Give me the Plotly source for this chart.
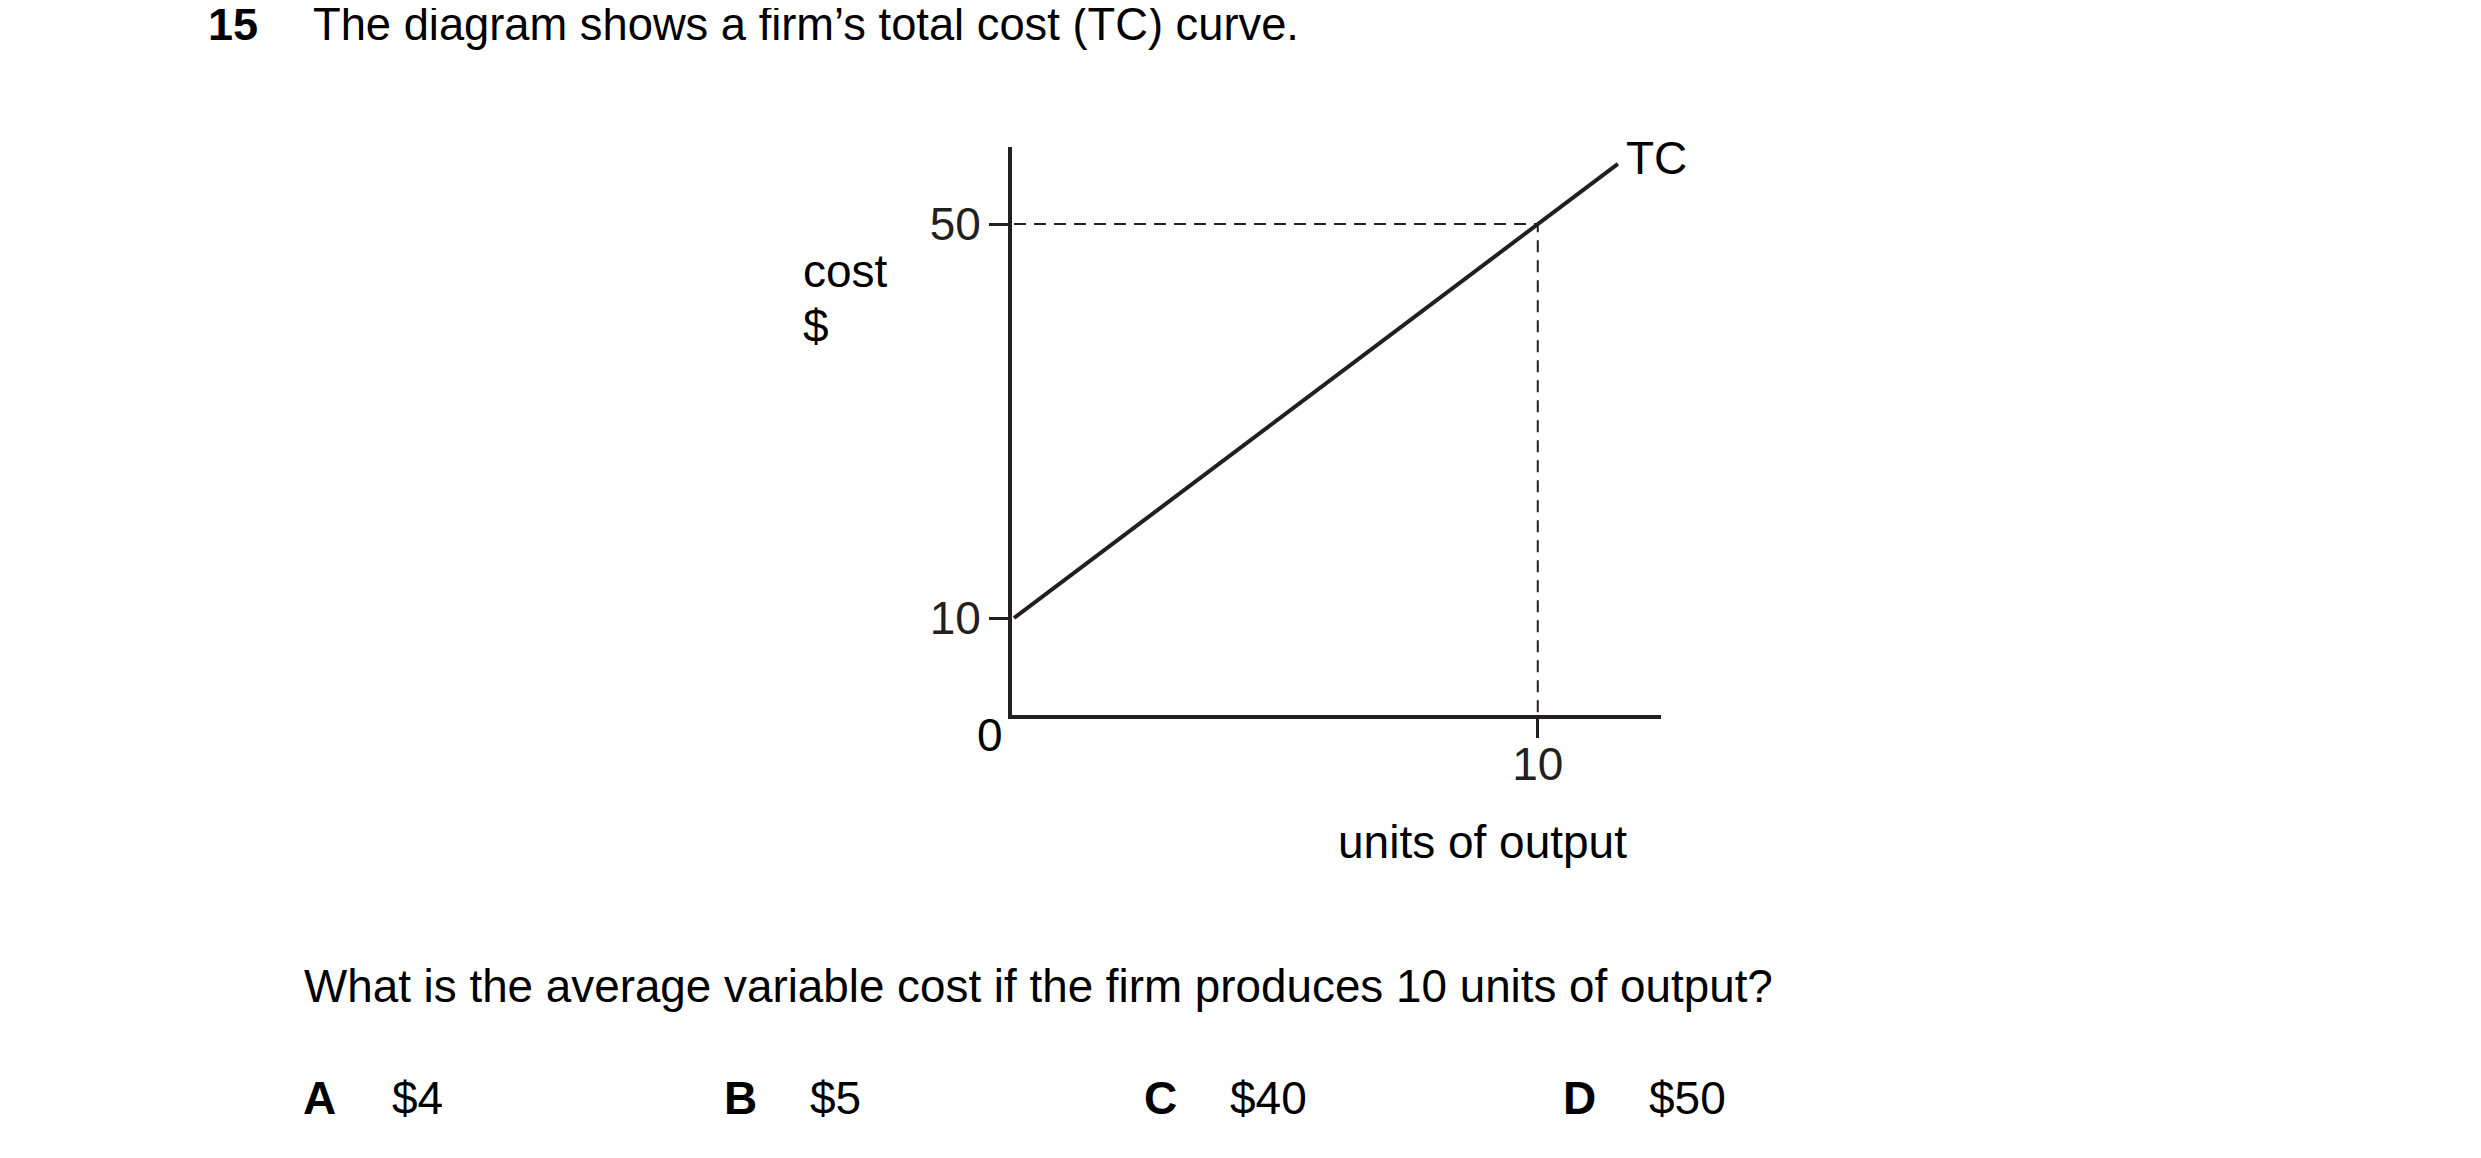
import plotly.graph_objects as go

# The page has an 8px body margin, so the figure is drawn 16px smaller
# and all page-pixel positions are shifted by 8.
OFF = 8
W, H = 2481 - 2 * OFF, 1158 - 2 * OFF
FONT = "Liberation Sans, Arial, sans-serif"
INK = "#231f20"
FS = 46

# data
tc_x = [0, 11.53]
tc_y = [10, 56.1]
guide_x = [0, 10, 10]
guide_y = [50, 50, 0]
y_ticks = [10, 50]
x_ticks = [10]
x_range = [-0.038, 12.347]
y_range = [0.203, 57.82]

question_no = "15"
title_text = "The diagram shows a firm’s total cost (TC) curve."
question_text = "What is the average variable cost if the firm produces 10 units of output?"
option_letters = ["A", "B", "C", "D"]
option_values = ["$4", "$5", "$40", "$50"]

# plot area (page pixels)
px_left, px_right, px_bottom, px_top = 1012, 1660.7, 714.5, 147

fig = go.Figure()
fig.add_trace(go.Scatter(x=guide_x, y=guide_y, mode="lines",
                         line=dict(color=INK, width=2, dash="12px,8px"),
                         hoverinfo="skip", showlegend=False, cliponaxis=False))
fig.add_trace(go.Scatter(x=tc_x, y=tc_y, mode="lines",
                         line=dict(color=INK, width=4),
                         hoverinfo="skip", showlegend=False, cliponaxis=False))

def px(x):
    return (x - OFF) / W

def py(y):
    return 1 - (y - OFF) / H

ann = []
def add(text, x, y, xanchor="left", yanchor="middle", bold=False, size=FS):
    ann.append(dict(text=("<b>%s</b>" % text) if bold else text, x=px(x), y=py(y),
                    xref="paper", yref="paper", xanchor=xanchor, yanchor=yanchor,
                    showarrow=False, font=dict(family=FONT, size=size, color="#000000")))

add(question_no, 206, 25, bold=True, size=45)
add(title_text, 311, 25, size=45.3)
add("cost", 801, 271)
add("$", 801, 326)
add("0", 990, 735, xanchor="center")
add("TC", 1624, 158)
add("units of output", 1482, 842, xanchor="center")
add(question_text, 302, 986, size=45.8)
opt_x_letter = [301, 722, 1142, 1561]
opt_x_val = [390, 808, 1228, 1647]
for i in range(4):
    add(option_letters[i], opt_x_letter[i], 1098, bold=True)
    add(option_values[i], opt_x_val[i], 1098)

fig.update_layout(
    width=W, height=H,
    margin=dict(l=0, r=0, t=0, b=0),
    paper_bgcolor="white", plot_bgcolor="white",
    showlegend=False,
    annotations=ann,
    xaxis=dict(domain=[px(px_left), px(px_right)], range=x_range,
               showgrid=False, zeroline=False, showline=True, linewidth=4, linecolor=INK,
               tickmode="array", tickvals=x_ticks, ticktext=[str(v) for v in x_ticks],
               ticks="outside", ticklen=19, tickwidth=3, tickcolor=INK,
               ticklabelstandoff=-13,
               tickfont=dict(family=FONT, size=FS, color=INK)),
    yaxis=dict(domain=[py(px_bottom), py(px_top)], range=y_range,
               showgrid=False, zeroline=False, showline=True, linewidth=4, linecolor=INK,
               tickmode="array", tickvals=y_ticks, ticktext=[str(v) for v in y_ticks],
               ticks="outside", ticklen=19, tickwidth=3, tickcolor=INK,
               ticklabelstandoff=-1,
               tickfont=dict(family=FONT, size=FS, color=INK)),
)

fig.write_html("out.html")
